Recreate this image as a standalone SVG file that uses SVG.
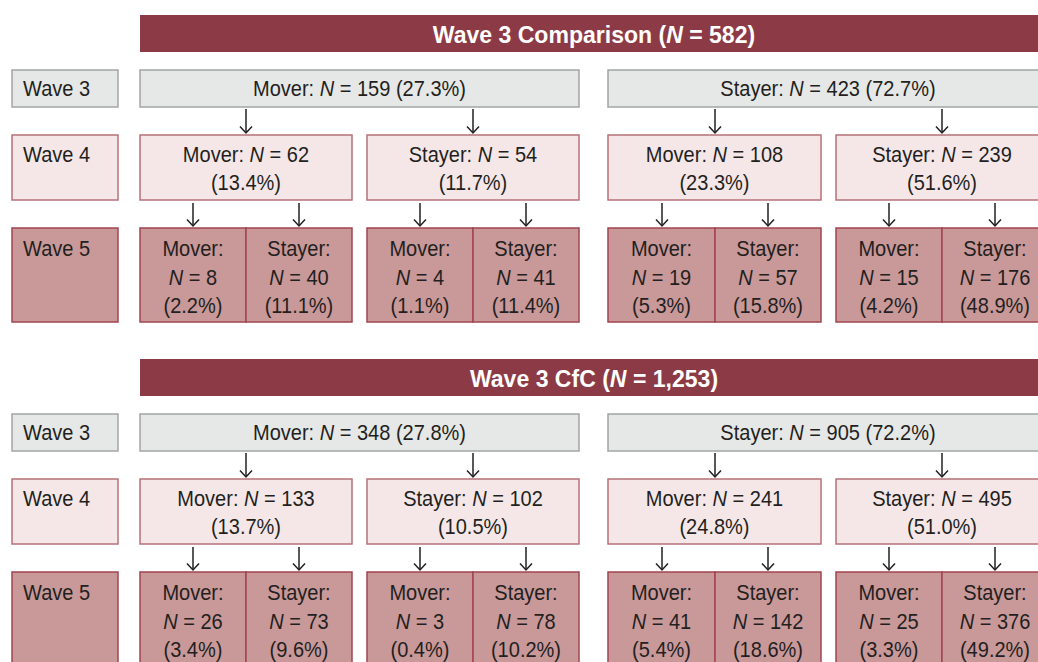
<svg xmlns="http://www.w3.org/2000/svg" width="1038" height="662" viewBox="0 0 1038 662">
<defs>
<style>
text{font-family:"Liberation Sans",Arial,sans-serif;font-size:22.5px;fill:#231f20;transform-box:fill-box;transform-origin:0 50%;transform:scaleX(0.89)}
.t{font-weight:bold;fill:#fff;font-size:24px;text-anchor:middle;transform-origin:50% 50%;transform:scaleX(0.96)}
.c{text-anchor:middle;transform-origin:50% 50%}
.i{font-style:italic}
.ban{fill:#8c3a45}
.w3{fill:#e6e7e7;stroke:#a3a5a5;stroke-width:1.5}
.w4{fill:#f5e7e8;stroke:#b5727a;stroke-width:1.5}
.w5{fill:#c99899;stroke:#a2444f;stroke-width:1.5}
.ar{stroke:#231f20;stroke-width:1.5;fill:none;marker-end:url(#ah)}
</style>
<marker id="ah" markerUnits="userSpaceOnUse" markerWidth="10" markerHeight="14" refX="7" refY="6.5" orient="auto"><path d="M0.5,0.5 L7,6.5 L0.5,12.5" fill="none" stroke="#231f20" stroke-width="1.5"/></marker>
</defs>
<rect width="1038" height="662" fill="#fff"/>

<!-- ===== Section 1 ===== -->
<g id="title1"><rect class="ban" x="140" y="15" width="908" height="37"/><text class="t" x="594" y="43.5">Wave 3 Comparison (<tspan class="i">N</tspan> = 582)</text></g>
<g id="s1-lab3"><rect class="w3" x="12" y="70" width="106" height="37"/><text x="23" y="96.5">Wave 3</text></g>
<g id="s1-lab4"><rect class="w4" x="12" y="135" width="106" height="65"/><text x="23" y="162">Wave 4</text></g>
<g id="s1-lab5"><rect class="w5" x="12" y="228" width="106" height="94"/><text x="23" y="256">Wave 5</text></g>

<g id="s1-w3-mover"><rect class="w3" x="140" y="70" width="439" height="37"/><text class="c" x="359.5" y="96.5">Mover: <tspan class="i">N</tspan> = 159 (27.3%)</text></g>
<g id="s1-w3-stayer"><rect class="w3" x="608" y="70" width="440" height="37"/><text class="c" x="828" y="96.5">Stayer: <tspan class="i">N</tspan> = 423 (72.7%)</text></g>

<g id="s1-w4-mm"><rect class="w4" x="140" y="135" width="212" height="65"/><text class="c" x="246" y="162">Mover: <tspan class="i">N</tspan> = 62</text><text class="c" x="246" y="190">(13.4%)</text></g>
<g id="s1-w4-ms"><rect class="w4" x="367" y="135" width="212" height="65"/><text class="c" x="473" y="162">Stayer: <tspan class="i">N</tspan> = 54</text><text class="c" x="473" y="190">(11.7%)</text></g>
<g id="s1-w4-sm"><rect class="w4" x="608" y="135" width="213" height="65"/><text class="c" x="714.5" y="162">Mover: <tspan class="i">N</tspan> = 108</text><text class="c" x="714.5" y="190">(23.3%)</text></g>
<g id="s1-w4-ss"><rect class="w4" x="836" y="135" width="212" height="65"/><text class="c" x="942" y="162">Stayer: <tspan class="i">N</tspan> = 239</text><text class="c" x="942" y="190">(51.6%)</text></g>

<g id="s1-w5-mmm"><rect class="w5" x="140" y="228" width="106" height="94"/><text class="c" x="193" y="256">Mover:</text><text class="c" x="193" y="285"><tspan class="i">N</tspan> = 8</text><text class="c" x="193" y="313">(2.2%)</text></g>
<g id="s1-w5-mms"><rect class="w5" x="246" y="228" width="106" height="94"/><text class="c" x="299" y="256">Stayer:</text><text class="c" x="299" y="285"><tspan class="i">N</tspan> = 40</text><text class="c" x="299" y="313">(11.1%)</text></g>
<g id="s1-w5-msm"><rect class="w5" x="367" y="228" width="106" height="94"/><text class="c" x="420" y="256">Mover:</text><text class="c" x="420" y="285"><tspan class="i">N</tspan> = 4</text><text class="c" x="420" y="313">(1.1%)</text></g>
<g id="s1-w5-mss"><rect class="w5" x="473" y="228" width="106" height="94"/><text class="c" x="526" y="256">Stayer:</text><text class="c" x="526" y="285"><tspan class="i">N</tspan> = 41</text><text class="c" x="526" y="313">(11.4%)</text></g>
<g id="s1-w5-smm"><rect class="w5" x="608" y="228" width="107" height="94"/><text class="c" x="661.5" y="256">Mover:</text><text class="c" x="661.5" y="285"><tspan class="i">N</tspan> = 19</text><text class="c" x="661.5" y="313">(5.3%)</text></g>
<g id="s1-w5-sms"><rect class="w5" x="715" y="228" width="106" height="94"/><text class="c" x="768" y="256">Stayer:</text><text class="c" x="768" y="285"><tspan class="i">N</tspan> = 57</text><text class="c" x="768" y="313">(15.8%)</text></g>
<g id="s1-w5-ssm"><rect class="w5" x="836" y="228" width="106" height="94"/><text class="c" x="889" y="256">Mover:</text><text class="c" x="889" y="285"><tspan class="i">N</tspan> = 15</text><text class="c" x="889" y="313">(4.2%)</text></g>
<g id="s1-w5-sss"><rect class="w5" x="942" y="228" width="106" height="94"/><text class="c" x="995" y="256">Stayer:</text><text class="c" x="995" y="285"><tspan class="i">N</tspan> = 176</text><text class="c" x="995" y="313">(48.9%)</text></g>

<!-- ===== Section 2 ===== -->
<g id="title2"><rect class="ban" x="140" y="359" width="908" height="37"/><text class="t" x="594" y="387.5">Wave 3 CfC (<tspan class="i">N</tspan> = 1,253)</text></g>
<g id="s2-lab3"><rect class="w3" x="12" y="414" width="106" height="37"/><text x="23" y="440.5">Wave 3</text></g>
<g id="s2-lab4"><rect class="w4" x="12" y="479" width="106" height="65"/><text x="23" y="506">Wave 4</text></g>
<g id="s2-lab5"><rect class="w5" x="12" y="572" width="106" height="94"/><text x="23" y="600">Wave 5</text></g>

<g id="s2-w3-mover"><rect class="w3" x="140" y="414" width="439" height="37"/><text class="c" x="359.5" y="440.5">Mover: <tspan class="i">N</tspan> = 348 (27.8%)</text></g>
<g id="s2-w3-stayer"><rect class="w3" x="608" y="414" width="440" height="37"/><text class="c" x="828" y="440.5">Stayer: <tspan class="i">N</tspan> = 905 (72.2%)</text></g>

<g id="s2-w4-mm"><rect class="w4" x="140" y="479" width="212" height="65"/><text class="c" x="246" y="506">Mover: <tspan class="i">N</tspan> = 133</text><text class="c" x="246" y="534">(13.7%)</text></g>
<g id="s2-w4-ms"><rect class="w4" x="367" y="479" width="212" height="65"/><text class="c" x="473" y="506">Stayer: <tspan class="i">N</tspan> = 102</text><text class="c" x="473" y="534">(10.5%)</text></g>
<g id="s2-w4-sm"><rect class="w4" x="608" y="479" width="213" height="65"/><text class="c" x="714.5" y="506">Mover: <tspan class="i">N</tspan> = 241</text><text class="c" x="714.5" y="534">(24.8%)</text></g>
<g id="s2-w4-ss"><rect class="w4" x="836" y="479" width="212" height="65"/><text class="c" x="942" y="506">Stayer: <tspan class="i">N</tspan> = 495</text><text class="c" x="942" y="534">(51.0%)</text></g>

<g id="s2-w5-mmm"><rect class="w5" x="140" y="572" width="106" height="94"/><text class="c" x="193" y="600">Mover:</text><text class="c" x="193" y="629"><tspan class="i">N</tspan> = 26</text><text class="c" x="193" y="657">(3.4%)</text></g>
<g id="s2-w5-mms"><rect class="w5" x="246" y="572" width="106" height="94"/><text class="c" x="299" y="600">Stayer:</text><text class="c" x="299" y="629"><tspan class="i">N</tspan> = 73</text><text class="c" x="299" y="657">(9.6%)</text></g>
<g id="s2-w5-msm"><rect class="w5" x="367" y="572" width="106" height="94"/><text class="c" x="420" y="600">Mover:</text><text class="c" x="420" y="629"><tspan class="i">N</tspan> = 3</text><text class="c" x="420" y="657">(0.4%)</text></g>
<g id="s2-w5-mss"><rect class="w5" x="473" y="572" width="106" height="94"/><text class="c" x="526" y="600">Stayer:</text><text class="c" x="526" y="629"><tspan class="i">N</tspan> = 78</text><text class="c" x="526" y="657">(10.2%)</text></g>
<g id="s2-w5-smm"><rect class="w5" x="608" y="572" width="107" height="94"/><text class="c" x="661.5" y="600">Mover:</text><text class="c" x="661.5" y="629"><tspan class="i">N</tspan> = 41</text><text class="c" x="661.5" y="657">(5.4%)</text></g>
<g id="s2-w5-sms"><rect class="w5" x="715" y="572" width="106" height="94"/><text class="c" x="768" y="600">Stayer:</text><text class="c" x="768" y="629"><tspan class="i">N</tspan> = 142</text><text class="c" x="768" y="657">(18.6%)</text></g>
<g id="s2-w5-ssm"><rect class="w5" x="836" y="572" width="106" height="94"/><text class="c" x="889" y="600">Mover:</text><text class="c" x="889" y="629"><tspan class="i">N</tspan> = 25</text><text class="c" x="889" y="657">(3.3%)</text></g>
<g id="s2-w5-sss"><rect class="w5" x="942" y="572" width="106" height="94"/><text class="c" x="995" y="600">Stayer:</text><text class="c" x="995" y="629"><tspan class="i">N</tspan> = 376</text><text class="c" x="995" y="657">(49.2%)</text></g>

<g id="connectors">
<line class="ar" x1="246" y1="109" x2="246" y2="133"/>
<line class="ar" x1="473" y1="109" x2="473" y2="133"/>
<line class="ar" x1="715" y1="109" x2="715" y2="133"/>
<line class="ar" x1="942" y1="109" x2="942" y2="133"/>
<line class="ar" x1="193" y1="203" x2="193" y2="226"/>
<line class="ar" x1="299" y1="203" x2="299" y2="226"/>
<line class="ar" x1="420" y1="203" x2="420" y2="226"/>
<line class="ar" x1="526" y1="203" x2="526" y2="226"/>
<line class="ar" x1="662" y1="203" x2="662" y2="226"/>
<line class="ar" x1="768" y1="203" x2="768" y2="226"/>
<line class="ar" x1="889" y1="203" x2="889" y2="226"/>
<line class="ar" x1="995" y1="203" x2="995" y2="226"/>
<line class="ar" x1="246" y1="453" x2="246" y2="477"/>
<line class="ar" x1="473" y1="453" x2="473" y2="477"/>
<line class="ar" x1="715" y1="453" x2="715" y2="477"/>
<line class="ar" x1="942" y1="453" x2="942" y2="477"/>
<line class="ar" x1="193" y1="547" x2="193" y2="570"/>
<line class="ar" x1="299" y1="547" x2="299" y2="570"/>
<line class="ar" x1="420" y1="547" x2="420" y2="570"/>
<line class="ar" x1="526" y1="547" x2="526" y2="570"/>
<line class="ar" x1="662" y1="547" x2="662" y2="570"/>
<line class="ar" x1="768" y1="547" x2="768" y2="570"/>
<line class="ar" x1="889" y1="547" x2="889" y2="570"/>
<line class="ar" x1="995" y1="547" x2="995" y2="570"/>
</g>
</svg>
